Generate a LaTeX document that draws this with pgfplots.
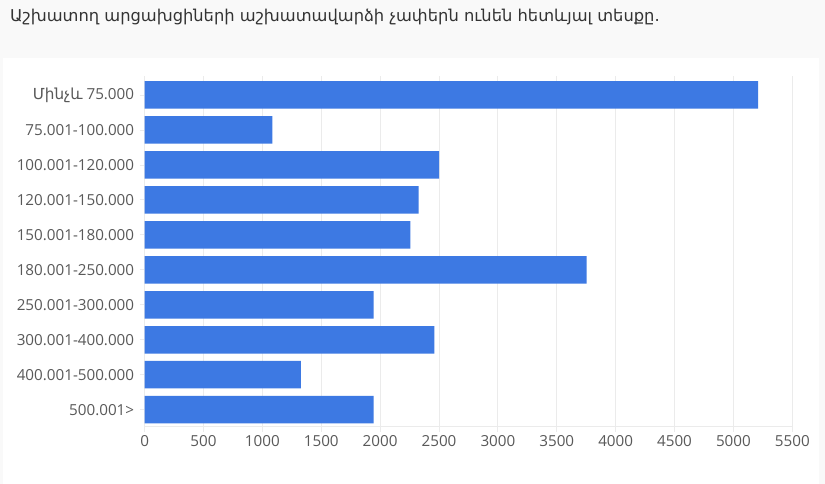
\documentclass[border=0pt]{standalone}
\usepackage{fontspec}
\setmainfont{Open Sans}
\newfontfamily\armfont{DejaVu Sans}
\usepackage{pgfplots}
\pgfplotsset{compat=1.18}
\definecolor{barblue}{HTML}{3D79E3}
\definecolor{gridc}{HTML}{EBEBEB}
\definecolor{labc}{HTML}{595959}
\definecolor{bgc}{HTML}{F9F9F9}
\begin{document}
\begin{tikzpicture}
\begin{axis}[set layers,clip=false,scale only axis,
  width=647.7pt,height=350.7pt,
  xbar,bar width=27.5pt,
  xmin=0,xmax=5500,ymin=-0.486,ymax=9.543,
  xtick={0,500,...,5500},ytick={0,...,9},
  yticklabels={500.001>,400.001-500.000,300.001-400.000,250.001-300.000,180.001-250.000,150.001-180.000,120.001-150.000,100.001-120.000,75.001-100.000,{{\armfont Մինչև} 75.000}},
  xmajorgrids,grid style={gridc,line width=0.8pt},
  axis line style={draw=none},
  tick pos=left,tick align=outside,major tick length=5pt,
  tick style={gridc,line width=0.8pt},
  ticklabel style={font=\fontsize{15.2}{17}\selectfont,text=labc},
  yticklabel style={xshift=-2pt},
  /pgf/number format/.cd,1000 sep={},assume math mode=true,
  /pgfplots/.cd,scaled x ticks=false]
\begin{pgfonlayer}{axis background}
\fill[bgc] ([shift={(-144.6pt,-57.3pt)}]rel axis cs:0,0) rectangle ([shift={(680.4pt,426.7pt)}]rel axis cs:0,0);
\fill[white] ([shift={(-141.6pt,-57.3pt)}]rel axis cs:0,0) rectangle ([shift={(674.4pt,368.7pt)}]rel axis cs:0,0);
\end{pgfonlayer}
\draw[gridc,line width=0.8pt] (rel axis cs:0,0) -- (rel axis cs:1,0);
\node[anchor=base west,font=\armfont\fontsize{16.3}{19}\selectfont,text=black!80,inner sep=0]
  at ([shift={(-134.6pt,405.2pt)}]rel axis cs:0,0)
  {Աշխատող արցախցիների աշխատավարձի չափերն ունեն հետևյալ տեսքը.};
\addplot[fill=barblue,draw=none] coordinates {
(1945,0) (1328,1) (2460,2) (1945,3) (3754,4) (2256,5) (2327,6) (2500,7) (1084,8) (5209,9)};
\end{axis}
\end{tikzpicture}
\end{document}
